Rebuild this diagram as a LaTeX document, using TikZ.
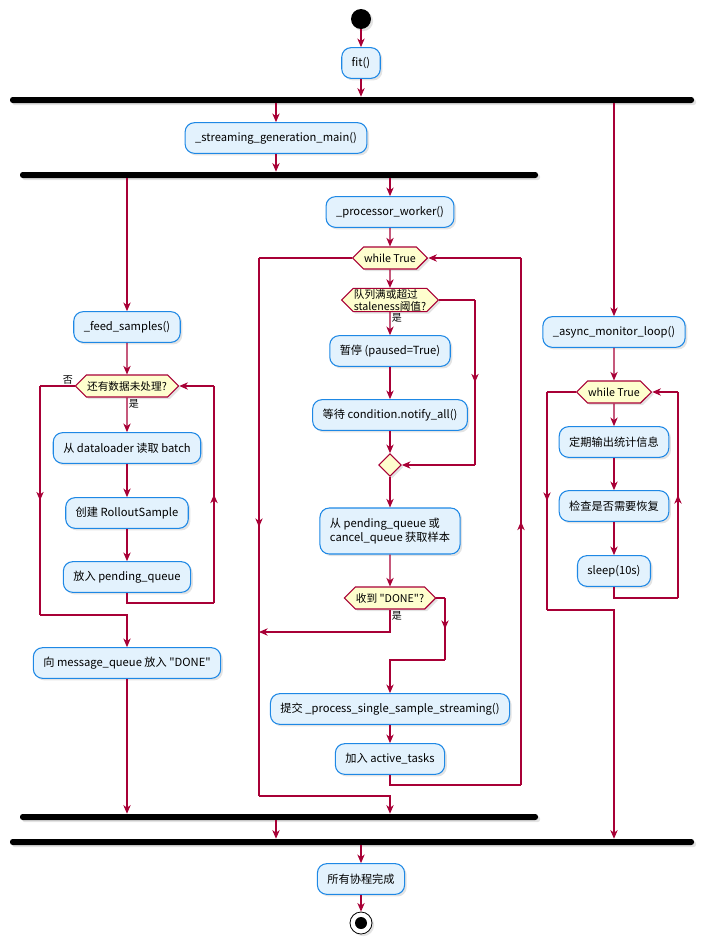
\documentclass[tikz,border=0pt]{standalone}
\usepackage{fontspec}
\setmainfont{Noto Sans CJK SC}[Ligatures=TeXOff]
\usepackage{tikz}
\usetikzlibrary{arrows.meta,shapes.geometric,shapes.symbols,shadows,decorations.markings}
\definecolor{Crimson}{HTML}{A80036}
\definecolor{Sky}{HTML}{1E88E5}
\definecolor{SkyF}{HTML}{E3F2FD}
\definecolor{Cream}{HTML}{FEFECE}

\begin{document}
\begin{tikzpicture}[x=0.75pt,y=-0.75pt,font=\fontsize{8}{9.6}\selectfont,
    shd/.style={drop shadow={shadow xshift=1.6pt,shadow yshift=-1.6pt,opacity=0.22}},
    act/.style={draw=Sky,fill=SkyF,rounded corners=7pt,minimum height=23pt,
      inner xsep=7.5pt,line width=0.8pt,font=\fontsize{8.4}{10}\selectfont,shd},
    cond/.style={signal,signal to=west and east,draw=Crimson,fill=Cream,
      minimum height=16.5pt,inner xsep=0.5pt,inner ysep=1pt,line width=0.8pt,shd},
    bar/.style={fill=black,rounded corners=2pt,minimum height=4.5pt,inner sep=0pt,shd},
    flow/.style={Crimson,line width=0.8pt},
    >={Stealth[length=6.5pt,width=5.5pt,inset=2pt]},
    mid/.style={postaction={decorate},decoration={markings,
      mark=at position 0.5 with {\arrow{Stealth[length=6.5pt,width=5.5pt,inset=2pt]}}}},
    lbl/.style={font=\fontsize{7.5}{9}\selectfont,text=black,inner sep=1pt}]
  \useasboundingbox (0,0) rectangle (709,950);
  \node[circle,fill=black,minimum size=15pt,inner sep=0pt,shd] (start) at (361,19) {};
  \node[act] (fit) at (361,63) {fit()};
  \node[bar,minimum width=513pt] (bar1) at (352,100) {};
  \node[act] (gen) at (276,138) {\_streaming\_generation\_main()};
  \node[bar,minimum width=388.5pt] (bar2) at (279,175) {};
  \node[act] (feed) at (127,327) {\_feed\_samples()};
  \node[act] (proc) at (390,212) {\_processor\_worker()};
  \node[act] (mon) at (614,332) {\_async\_monitor\_loop()};

  % feed branch
  \node[cond] (more) at (127,386) {还有数据未处理?};
  \node[act] (load) at (127,448) {从 dataloader 读取 batch};
  \node[act] (make) at (127,513) {创建 RolloutSample};
  \node[act] (put) at (127,577) {放入 pending\_queue};
  \node[act] (sent) at (127,663) {向 message\_queue 放入 "DONE"};

  % worker branch
  \node[cond] (wloop) at (390,258) {while True};
  \node[cond,align=left,font=\fontsize{8}{9}\selectfont,inner ysep=0.5pt] (full) at (390,300) {队列满或超过\\staleness阈值?};
  \node[act] (pause) at (390,351) {暂停 (paused=True)};
  \node[act] (wait) at (390,415) {等待 condition.notify\_all()};
  \node[diamond,draw=Crimson,fill=Cream,minimum size=17pt,inner sep=0pt,line width=0.8pt,shd] (merge) at (390,465) {};
  \node[act,align=left,minimum height=34.5pt] (take) at (390,531) {从 pending\_queue 或\\cancel\_queue 获取样本};
  \node[cond] (isdone) at (390,598) {收到 "DONE"?};
  \node[act] (submit) at (390,709) {提交 \_process\_single\_sample\_streaming()};
  \node[act] (track) at (390,759) {加入 active\_tasks};

  % monitor branch
  \node[cond] (mloop) at (614,392) {while True};
  \node[act] (stats) at (614,442) {定期输出统计信息};
  \node[act] (heal) at (614,506) {检查是否需要恢复};
  \node[act] (nap) at (614,571) {sleep(10s)};

  \node[bar,minimum width=388.5pt] (bar3) at (279,817) {};
  \node[bar,minimum width=513pt] (bar4) at (352,842) {};
  \node[act] (fin) at (361,879) {所有协程完成};
  \node[circle,draw=black,fill=white,minimum size=16.5pt,inner sep=0pt,line width=0.6pt,shd] (stop) at (361,923) {};
  \node[circle,fill=black,minimum size=9pt,inner sep=0pt] (stopin) at (stop) {};

  % fork / join
  \draw[flow,->] (start) -- (fit);
  \draw[flow,->] (fit) -- (fit |- bar1.north);
  \draw[flow,->] (gen |- bar1.south) -- (gen);
  \draw[flow,->] (gen) -- (gen |- bar2.north);
  \draw[flow,->] (feed |- bar2.south) -- (feed);
  \draw[flow,->] (proc |- bar2.south) -- (proc);
  \draw[flow,->] (mon |- bar1.south) -- (mon);

  % feed loop
  \coordinate (putR) at (214,603);
  \coordinate (moreR) at (214,386);
  \coordinate (moreL) at (40,386);
  \coordinate (sentL) at (40,615);
  \draw[flow,->] (feed) -- (more);
  \draw[flow,->] (more) -- (load) node[lbl,pos=0,anchor=north west] {是};
  \draw[flow,->] (load) -- (make);
  \draw[flow,->] (make) -- (put);
  \draw[flow] (put.south) |- (putR);
  \draw[flow,mid] (putR) -- (moreR);
  \draw[flow,->] (moreR) -- (more.east);
  \draw[flow] (more.west) -- (moreL) node[lbl,pos=0,anchor=south east] {否};
  \draw[flow,mid] (moreL) -- (sentL);
  \draw[flow,->] (sentL) -| (sent.north);
  \draw[flow,->] (sent) -- (sent |- bar3.north);

  % worker loop
  \coordinate (fullR) at (475,300);
  \coordinate (mergeR) at (475,465);
  \coordinate (yesL) at (259,632);
  \coordinate (noR) at (445,598);
  \coordinate (noB) at (445,660);
  \coordinate (loopR1) at (521,785);
  \coordinate (loopR2) at (521,258);
  \coordinate (loopL1) at (259,258);
  \coordinate (loopL2) at (259,796);
  \draw[flow,->] (proc) -- (wloop);
  \draw[flow,->] (wloop) -- (full);
  \draw[flow,->] (full) -- (pause) node[lbl,pos=0,anchor=north west] {是};
  \draw[flow,->] (pause) -- (wait);
  \draw[flow,->] (wait) -- (merge);
  \draw[flow] (full.east) -- (fullR);
  \draw[flow,mid] (fullR) -- (mergeR);
  \draw[flow,->] (mergeR) -- (merge.east);
  \draw[flow,->] (merge) -- (take);
  \draw[flow,->] (take) -- (isdone);
  \draw[flow,->] (isdone.south) |- (yesL) node[lbl,pos=0,anchor=north west] {是};
  \draw[flow] (isdone.east) -- (noR);
  \draw[flow,mid] (noR) -- (noB);
  \draw[flow,->] (noB) -| (submit.north);
  \draw[flow,->] (submit) -- (track);
  \draw[flow] (track.south) |- (loopR1);
  \draw[flow,mid] (loopR1) -- (loopR2);
  \draw[flow,->] (loopR2) -- (wloop.east);
  \draw[flow] (wloop.west) -- (loopL1);
  \draw[flow,mid] (loopL1) -- (loopL2);
  \draw[flow,->] (loopL2) -| (wloop |- bar3.north);

  % monitor loop
  \coordinate (napR) at (678,598);
  \coordinate (mloopR) at (678,392);
  \coordinate (mloopL) at (547,392);
  \coordinate (monB) at (547,610);
  \draw[flow,->] (mon) -- (mloop);
  \draw[flow,->] (mloop) -- (stats);
  \draw[flow,->] (stats) -- (heal);
  \draw[flow,->] (heal) -- (nap);
  \draw[flow] (nap.south) |- (napR);
  \draw[flow,mid] (napR) -- (mloopR);
  \draw[flow,->] (mloopR) -- (mloop.east);
  \draw[flow] (mloop.west) -- (mloopL);
  \draw[flow,mid] (mloopL) -- (monB);
  \draw[flow,->] (monB) -| (mon |- bar4.north);

  % join
  \draw[flow,->] (gen |- bar3.south) -- (gen |- bar4.north);
  \draw[flow,->] (fin |- bar4.south) -- (fin);
  \draw[flow,->] (fin) -- (stop);
\end{tikzpicture}
\end{document}
